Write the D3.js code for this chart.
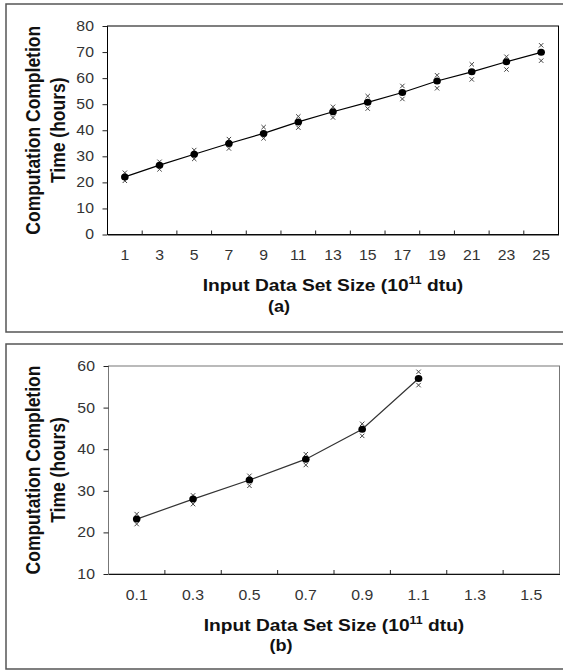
<!DOCTYPE html>
<html>
<head>
<meta charset="utf-8">
<script src="https://cdn.jsdelivr.net/npm/d3@7"></script>
<style>
  body { margin: 0; background: #fff; }
  svg { display: block; font-family: Arial, "Liberation Sans", sans-serif; }
</style>
</head>
<body>
<svg width="563" height="671"></svg>
<script>
// panel (a)
const sizesA = ["1", "3", "5", "7", "9", "11", "13", "15", "17", "19", "21", "23", "25"]
const meanA  = [22.1, 26.6, 30.8, 34.9, 38.8, 43.2, 47.1, 50.7, 54.5, 58.9, 62.4, 66.3, 69.9]
const upperA = [23.7, 27.9, 32.4, 36.6, 41.2, 45.3, 49.0, 53.1, 57.0, 61.1, 65.3, 68.2, 72.6]
const lowerA = [20.6, 25.0, 29.0, 33.0, 36.9, 41.0, 44.9, 48.3, 52.0, 56.1, 59.5, 63.3, 66.7]
const yTicksA = [0, 10, 20, 30, 40, 50, 60, 70, 80]

// panel (b)
const sizesB = ["0.1", "0.3", "0.5", "0.7", "0.9", "1.1", "1.3", "1.5"]
const meanB  = [23.2, 28.0, 32.6, 37.6, 44.8, 57.0]
const upperB = [24.4, 28.9, 33.6, 38.8, 46.1, 58.6]
const lowerB = [22.0, 26.8, 31.2, 36.2, 43.2, 55.4]
const yTicksB = [10, 20, 30, 40, 50, 60]

const svg = d3.select("svg")
const stretch = 1.13   // el original está algo estirado en horizontal

function drawPanel(p) {
  const g = svg.append("g")

  // marco exterior
  g.append("rect")
    .attr("x", 6).attr("y", p.frameTop)
    .attr("width", 570).attr("height", p.frameBottom - p.frameTop)
    .attr("fill", "none").attr("stroke", "#555").attr("stroke-width", 1.5)

  const x = d3.scaleBand(p.cats, [p.left, p.right])
  const y = d3.scaleLinear(p.yDomain, [p.bottom, p.top])

  // caja del área de trazado
  g.append("rect")
    .attr("x", p.left).attr("y", p.top)
    .attr("width", p.right - p.left).attr("height", p.bottom - p.top)
    .attr("fill", "none").attr("stroke", p.boxColor).attr("stroke-width", 1)

  // eje y
  const yAxis = d3.axisLeft(y).tickValues(p.yTicks).tickSize(5).tickPadding(7)
  g.append("g")
    .attr("transform", `translate(${p.left},0)`)
    .call(yAxis)
    .call(s => s.select(".domain").remove())
    .call(s => s.selectAll("line").attr("stroke", "#222"))
    .call(s => s.selectAll("text").attr("font-size", "14px").attr("fill", "#333")
      .attr("font-family", "Arial, 'Liberation Sans', sans-serif")
      .attr("transform", `scale(${stretch},1)`))

  // eje x (etiquetas centradas en categorías)
  const xAxis = d3.axisBottom(x).tickSize(0).tickPadding(p.xLabelPad)
  g.append("g")
    .attr("transform", `translate(0,${p.bottom})`)
    .call(xAxis)
    .call(s => s.select(".domain").attr("stroke", "#111"))
    .call(s => s.selectAll("text").attr("font-size", "14px").attr("fill", "#333")
      .attr("font-family", "Arial, 'Liberation Sans', sans-serif")
      .attr("transform", `scale(${stretch},1)`))

  // marcas entre categorías, hacia dentro
  g.append("g").selectAll("line")
    .data(p.cats.slice(1))
    .join("line")
      .attr("x1", d => x(d)).attr("x2", d => x(d))
      .attr("y1", p.bottom).attr("y2", p.bottom - 4)
      .attr("stroke", "#222")

  // serie
  const pts = p.mean.map((v, i) => ({cat: p.cats[i], mean: v, hi: p.upper[i], lo: p.lower[i]}))
  const cx = d => x(d.cat) + x.bandwidth() / 2

  g.append("path")
    .datum(pts)
    .attr("fill", "none")
    .attr("stroke", p.lineColor)
    .attr("stroke-width", 1.2)
    .attr("d", d3.line().x(cx).y(d => y(d.mean)))

  const cross = (sel, key) => sel.append("g").selectAll("path")
    .data(pts)
    .join("path")
      .attr("d", d => {
        const px = cx(d), py = y(d[key]), r = 2.2
        return `M${px - r},${py - r}L${px + r},${py + r}M${px - r},${py + r}L${px + r},${py - r}`
      })
      .attr("stroke", "#444").attr("stroke-width", 1).attr("fill", "none")

  cross(g, "hi")
  cross(g, "lo")

  g.append("g").selectAll("ellipse")
    .data(pts)
    .join("ellipse")
      .attr("cx", cx).attr("cy", d => y(d.mean))
      .attr("rx", 3.8).attr("ry", 3.5).attr("fill", "#000")

  // título eje y
  const yt = g.append("text")
    .attr("transform", `translate(0,${(p.top + p.bottom) / 2}) scale(${stretch},1) rotate(-90)`)
    .attr("text-anchor", "middle")
    .attr("font-size", "17.5px").attr("font-weight", "bold").attr("fill", "#111")
  yt.append("tspan").attr("x", 0).attr("y", 35.3).text("Computation Completion")
  yt.append("tspan").attr("x", 0).attr("y", 57.3).text("Time (hours)")

  // título eje x
  const xt = g.append("text")
    .attr("transform", `translate(${(p.left + p.right) / 2},${p.xTitleY}) scale(${stretch},1)`)
    .attr("text-anchor", "middle")
    .attr("font-size", "17px").attr("font-weight", "bold").attr("fill", "#111")
  xt.append("tspan").text("Input Data Set Size (10")
  xt.append("tspan").attr("font-size", "11px").attr("dy", -7).text("11")
  xt.append("tspan").attr("dy", 7).text(" dtu)")

  g.append("text")
    .attr("transform", `translate(${p.subX},${p.subY}) scale(${stretch},1)`)
    .attr("text-anchor", "middle")
    .attr("font-size", "16px").attr("font-weight", "bold").attr("fill", "#111")
    .text(p.sub)
}

drawPanel({
  cats: sizesA, mean: meanA, upper: upperA, lower: lowerA,
  yDomain: [0, 80], yTicks: yTicksA,
  left: 107.5, right: 558.5, top: 26, bottom: 234.5,
  frameTop: 4, frameBottom: 332,
  boxColor: "#000", lineColor: "#000",
  xLabelPad: 16, xTitleY: 291, sub: "(a)", subX: 279, subY: 312
})

drawPanel({
  cats: sizesB, mean: meanB, upper: upperB, lower: lowerB,
  yDomain: [10, 60], yTicks: yTicksB,
  left: 108.5, right: 559.5, top: 366, bottom: 574,
  frameTop: 344, frameBottom: 669,
  boxColor: "#777", lineColor: "#333",
  xLabelPad: 16, xTitleY: 631, sub: "(b)", subX: 281, subY: 651
})
</script>
</body>
</html>
